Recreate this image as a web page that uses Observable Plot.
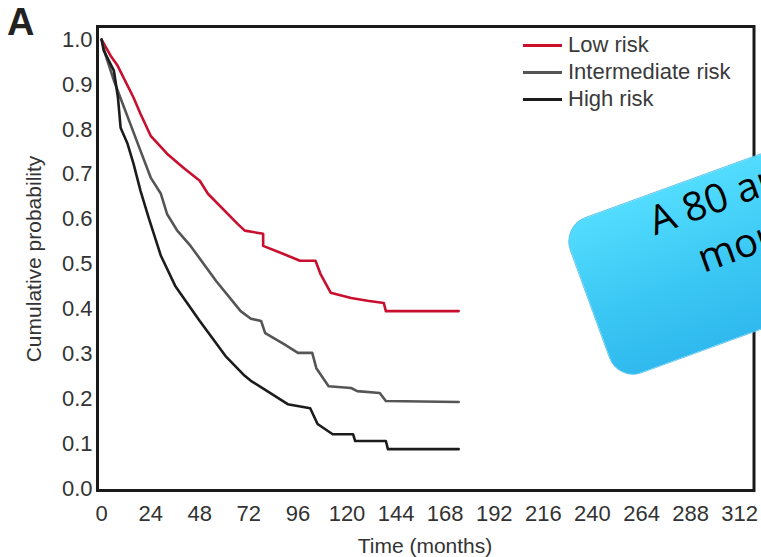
<!DOCTYPE html>
<html>
<head>
<meta charset="utf-8">
<script src="https://cdn.jsdelivr.net/npm/d3@7"></script>
<script src="https://cdn.jsdelivr.net/npm/@observablehq/plot@0.6"></script>
<style>
  html, body { margin: 0; padding: 0; background: #fff; }
  body { width: 761px; height: 557px; overflow: hidden; position: relative; font-family: "Liberation Sans", Arial, sans-serif; }
  #chart { position: absolute; left: 0; top: 0; }
  .ov { position: absolute; white-space: nowrap; color: #333; }
  .lgline { position: absolute; height: 3px; width: 39px; left: 523px; }
  .lgtext { position: absolute; left: 568px; font-size: 22px; line-height: 22px; color: #3a3a3a; white-space: nowrap; }
  #callout {
    position: absolute; left: 561px; top: 226px; width: 420px; height: 166px;
    border-radius: 26px; transform-origin: 0 0; transform: rotate(-20deg);
    background: linear-gradient(180deg, #52dcfe 0%, #3cc8f4 55%, #2fb9ee 100%);
    border: 1.5px solid #5cc6ee; box-sizing: border-box;
    font-family: "Open Sans", sans-serif; color: #000;
  }
  #callout span { position: absolute; font-size: 40px; line-height: 40px; white-space: nowrap; }
</style>
</head>
<body>
<div id="chart"></div>
<script>
// ---- data ----
const seriesNames = ["Low risk", "Intermediate risk", "High risk"];

const lowT  = [0, 4.4, 7.8, 15.6, 19, 24, 32, 40, 48, 52, 66.5, 70, 79, 79, 89, 97, 104.6, 107, 112, 122, 130, 138, 139, 174.6];
const lowP  = [1.0, 0.964, 0.942, 0.871, 0.835, 0.786, 0.746, 0.715, 0.686, 0.657, 0.590, 0.575, 0.568, 0.541, 0.523, 0.508, 0.508, 0.479, 0.437, 0.425, 0.419, 0.414, 0.396, 0.396];

const intT  = [0, 2, 6, 11, 14, 19, 24, 29, 32, 37, 43.5, 56, 68, 73, 78, 80, 89, 96, 103, 105, 111, 122, 125, 136, 139, 174.6];
const intP  = [1.0, 0.965, 0.909, 0.849, 0.813, 0.753, 0.693, 0.657, 0.612, 0.575, 0.541, 0.463, 0.396, 0.379, 0.374, 0.347, 0.323, 0.303, 0.303, 0.269, 0.229, 0.225, 0.218, 0.214, 0.196, 0.194];

const highT = [0, 1, 6, 8, 9.3, 12.7, 15.6, 19, 23, 29, 36, 48, 60.6, 70, 73, 81, 91, 102, 105.6, 113, 123, 124, 139, 140, 174.6];
const highP = [1.0, 0.976, 0.931, 0.871, 0.804, 0.768, 0.724, 0.664, 0.604, 0.519, 0.452, 0.374, 0.296, 0.252, 0.241, 0.218, 0.189, 0.180, 0.145, 0.122, 0.122, 0.107, 0.107, 0.089, 0.089];

const xTicks = [0, 24, 48, 72, 96, 120, 144, 168, 192, 216, 240, 264, 288, 312];
const yTicks = [0, 0.1, 0.2, 0.3, 0.4, 0.5, 0.6, 0.7, 0.8, 0.9, 1.0];

const xTitle = "Time (months)";
const yTitle = "Cumulative probability";
const panelLabel = "A";
const calloutLines = ["A 80 and", "more"];

// ---- build table ----
const rows = [];
[[lowT, lowP], [intT, intP], [highT, highP]].forEach(([ts, ps], i) => {
  ts.forEach((t, j) => rows.push({series: seriesNames[i], t, p: ps[j]}));
});
const colors = ["#c8102e", "#555555", "#1c1c1c"];

const chart = Plot.plot({
  width: 761,
  height: 557,
  marginLeft: 97,
  marginRight: 7.5,
  marginTop: 26,
  marginBottom: 67,
  style: {fontFamily: "'Liberation Sans', Arial, sans-serif", fontSize: "22px", color: "#333", background: "transparent"},
  x: {domain: [-2, 319], ticks: xTicks, tickSize: 0, tickPadding: 15, label: null},
  y: {domain: [-0.003, 1.029], ticks: yTicks, tickFormat: d3.format(".1f"), tickSize: 0, tickPadding: 5, label: null},
  color: {domain: seriesNames, range: colors},
  marks: [
    Plot.line(rows, {x: "t", y: "p", z: "series", stroke: "series", strokeWidth: 2.6, curve: "linear"}),
    Plot.frame({stroke: "#1a1a1a", strokeWidth: 3})
  ]
});
document.getElementById("chart").appendChild(chart);

const body = document.body;
function addDiv(cls, text, css) {
  const d = document.createElement("div");
  d.className = cls;
  if (text != null) d.textContent = text;
  Object.assign(d.style, css);
  body.appendChild(d);
  return d;
}

// panel label
addDiv("ov", panelLabel, {left: "7px", top: "3px", fontSize: "38px", lineHeight: "38px", fontWeight: "bold", color: "#222"});

// axis titles
addDiv("ov", yTitle, {left: "33px", top: "259px", fontSize: "21px", lineHeight: "21px", transform: "translate(-50%,-50%) rotate(-90deg)"});
addDiv("ov", xTitle, {left: "425px", top: "545px", fontSize: "21px", lineHeight: "21px", transform: "translate(-50%,-50%)"});

// legend
const legendY = [45, 72, 99];
seriesNames.forEach((name, i) => {
  addDiv("lgline", null, {top: (legendY[i] - 1.5) + "px", background: colors[i]});
  addDiv("lgtext", name, {top: (legendY[i] - 10.7) + "px"});
});

// callout
const callout = addDiv("", null, {});
callout.id = "callout";
const lineLeft = [84, 117];
const lineTop = [5, 57];
calloutLines.forEach((txt, i) => {
  const s = document.createElement("span");
  s.textContent = txt;
  s.style.left = lineLeft[i] + "px";
  s.style.top = lineTop[i] + "px";
  callout.appendChild(s);
});
</script>
</body>
</html>
